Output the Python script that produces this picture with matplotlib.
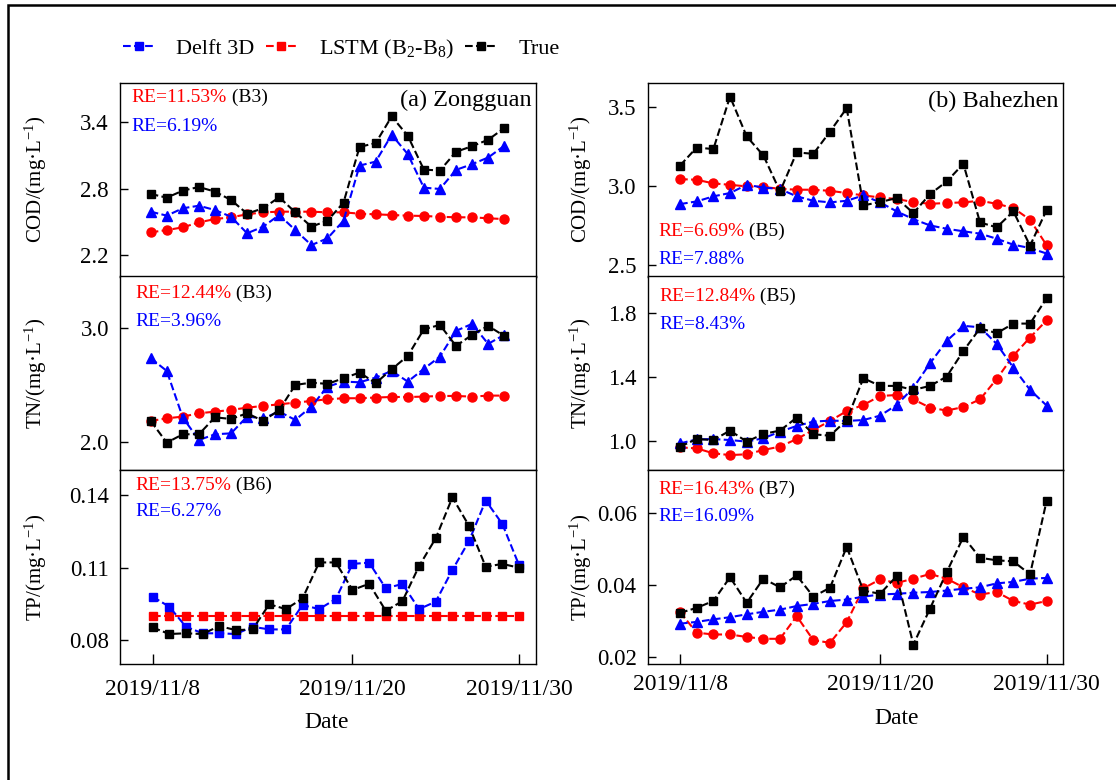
import numpy as np
import matplotlib.pyplot as plt
import matplotlib.dates as mdates
from matplotlib.patches import Rectangle
from matplotlib.ticker import FormatStrFormatter

plt.rcParams['font.family'] = ['Liberation Serif', 'DejaVu Serif']
plt.rcParams['mathtext.fontset'] = 'custom'
plt.rcParams['mathtext.rm'] = 'Liberation Serif'
plt.rcParams['mathtext.it'] = 'Liberation Serif:italic'

# daily dates, 2019/11/8 .. 2019/11/30
dates = np.arange('2019-11-08', '2019-12-01', dtype='datetime64[D]')
tick_dates = np.array(['2019-11-08', '2019-11-20', '2019-11-30'], dtype='datetime64[D]')
tick_labels = ['2019/11/8', '2019/11/20', '2019/11/30']

# (a) Zongguan
zg_cod_true = [2.752, 2.718, 2.782, 2.815, 2.773, 2.697, 2.573, 2.622, 2.722, 2.585, 2.455, 2.509,
               2.673, 3.179, 3.213, 3.455, 3.279, 2.973, 2.964, 3.134, 3.185, 3.243, 3.349]
zg_cod_delft = [2.591, 2.555, 2.622, 2.645, 2.606, 2.545, 2.395, 2.455, 2.561, 2.424, 2.288, 2.349,
                2.509, 3.009, 3.045, 3.288, 3.113, 2.809, 2.797, 2.970, 3.022, 3.082, 3.188]
zg_cod_lstm = [2.404, 2.424, 2.449, 2.494, 2.524, 2.540, 2.567, 2.585, 2.591, 2.591, 2.591, 2.585,
               2.585, 2.573, 2.567, 2.561, 2.555, 2.552, 2.545, 2.540, 2.540, 2.531, 2.524]

zg_tn_true = [2.186, 1.997, 2.070, 2.070, 2.218, 2.203, 2.253, 2.186, 2.282, 2.500, 2.520, 2.509,
              2.558, 2.608, 2.515, 2.637, 2.753, 2.985, 3.023, 2.840, 2.936, 3.015, 2.927]
zg_tn_delft = [2.733, 2.622, 2.215, 2.020, 2.070, 2.078, 2.224, 2.209, 2.267, 2.195, 2.311, 2.485,
               2.529, 2.523, 2.564, 2.622, 2.529, 2.640, 2.747, 2.971, 3.032, 2.858, 2.936]
zg_tn_lstm = [2.186, 2.209, 2.224, 2.253, 2.267, 2.282, 2.302, 2.317, 2.331, 2.346, 2.360, 2.375,
              2.384, 2.384, 2.390, 2.395, 2.395, 2.398, 2.404, 2.404, 2.398, 2.407, 2.407]

zg_tp_true = [0.0852, 0.0825, 0.0828, 0.0825, 0.0858, 0.0841, 0.0844, 0.0948, 0.0928, 0.0972, 0.1121, 0.1121,
              0.1007, 0.1033, 0.0921, 0.0961, 0.1106, 0.1221, 0.1390, 0.1272, 0.1103, 0.1115, 0.1099]
zg_tp_delft = [0.0979, 0.0938, 0.0855, 0.0828, 0.0828, 0.0825, 0.0855, 0.0844, 0.0844, 0.0945, 0.0928, 0.0970,
               0.1115, 0.1120, 0.1014, 0.1032, 0.0928, 0.0959, 0.1090, 0.1210, 0.1377, 0.1280, 0.1110]
zg_tp_lstm = [0.0899] * 23

# (b) Bahezhen
bh_cod_true = [3.128, 3.242, 3.232, 3.564, 3.312, 3.192, 2.964, 3.211, 3.202, 3.343, 3.491, 2.876,
               2.897, 2.922, 2.827, 2.947, 3.027, 3.139, 2.768, 2.737, 2.838, 2.621, 2.848]
bh_cod_delft = [2.884, 2.901, 2.933, 2.954, 3.006, 2.989, 2.979, 2.933, 2.905, 2.895, 2.905, 2.939,
                2.895, 2.838, 2.789, 2.749, 2.728, 2.712, 2.697, 2.665, 2.627, 2.606, 2.571]
bh_cod_lstm = [3.042, 3.038, 3.015, 3.006, 2.996, 2.992, 2.981, 2.975, 2.975, 2.968, 2.954, 2.939,
               2.926, 2.916, 2.897, 2.886, 2.891, 2.895, 2.905, 2.886, 2.859, 2.785, 2.623]

bh_tn_true = [0.963, 1.010, 1.004, 1.063, 0.994, 1.042, 1.063, 1.144, 1.040, 1.031, 1.129, 1.390,
              1.342, 1.342, 1.317, 1.342, 1.400, 1.560, 1.702, 1.671, 1.731, 1.731, 1.890]
bh_tn_delft = [0.983, 1.008, 1.010, 1.004, 0.994, 1.015, 1.056, 1.092, 1.119, 1.125, 1.123, 1.129,
               1.156, 1.223, 1.331, 1.483, 1.623, 1.717, 1.708, 1.604, 1.456, 1.317, 1.219]
bh_tn_lstm = [0.958, 0.952, 0.921, 0.910, 0.915, 0.942, 0.963, 1.010, 1.067, 1.123, 1.185, 1.223,
              1.279, 1.285, 1.258, 1.206, 1.188, 1.210, 1.258, 1.385, 1.531, 1.644, 1.752]

bh_tp_true = [0.0323, 0.0337, 0.0356, 0.0422, 0.0351, 0.0418, 0.0394, 0.0427, 0.0368, 0.0393, 0.0506, 0.0385,
              0.0376, 0.0425, 0.0235, 0.0335, 0.0436, 0.0534, 0.0476, 0.0469, 0.0466, 0.0430, 0.0635]
bh_tp_delft = [0.0293, 0.0298, 0.0305, 0.0311, 0.0319, 0.0326, 0.0332, 0.0342, 0.0348, 0.0356, 0.0360, 0.0368,
               0.0374, 0.0376, 0.0379, 0.0381, 0.0385, 0.0390, 0.0394, 0.0405, 0.0409, 0.0418, 0.0420]
bh_tp_lstm = [0.0325, 0.0268, 0.0263, 0.0263, 0.0256, 0.0251, 0.0251, 0.0314, 0.0247, 0.0240, 0.0297, 0.0391,
              0.0416, 0.0406, 0.0418, 0.0431, 0.0418, 0.0394, 0.0374, 0.0381, 0.0356, 0.0346, 0.0356]

W, H = 1116, 780
fig = plt.figure(figsize=(W / 100, H / 100), dpi=100)

# outer frame
fig.add_artist(Rectangle((8 / W, -0.5), 2, 1.5 - 5 / H, fill=False, lw=1.8,
                         edgecolor='black', transform=fig.transFigure, clip_on=False))


def rect(x0, y0, x1, y1):
    return [x0 / W, 1 - y1 / H, (x1 - x0) / W, (y1 - y0) / H]


def fpos(x, y):
    return x / W, 1 - y / H


rows = [(82.7, 276.5), (276.5, 470.3), (470.3, 664)]
base = mdates.date2num(np.datetime64('2019-11-08'))

panels = [
    dict(x=(120, 536), row=0, d=(zg_cod_true, zg_cod_delft, zg_cod_lstm), mk=('^', 'o'),
         yt=[2.2, 2.8, 3.4], fmt='%.1f', yl=(2.003, 3.761), lab='COD/(mg·L$^{-1}$)',
         xl=(-1.91, 23.98), re=('RE=11.53%', ' (B3)', 'RE=6.19%', 131.7, 98, 126.7)),
    dict(x=(120, 536), row=1, d=(zg_tn_true, zg_tn_delft, zg_tn_lstm), mk=('^', 'o'),
         yt=[2.0, 3.0], fmt='%.1f', yl=(1.756, 3.445), lab='TN/(mg·L$^{-1}$)',
         xl=(-1.91, 23.98), re=('RE=12.44%', ' (B3)', 'RE=3.96%', 135, 293.3, 321)),
    dict(x=(120, 536), row=2, d=(zg_tp_true, zg_tp_delft, zg_tp_lstm), mk=('s', 's'),
         yt=[0.08, 0.11, 0.14], fmt='%.2f', yl=(0.0701, 0.1502), lab='TP/(mg·L$^{-1}$)',
         xl=(-1.96, 23.02), re=('RE=13.75%', ' (B6)', 'RE=6.27%', 135, 485, 511.7)),
    dict(x=(647.7, 1062.7), row=0, d=(bh_cod_true, bh_cod_delft, bh_cod_lstm), mk=('^', 'o'),
         yt=[2.5, 3.0, 3.5], fmt='%.1f', yl=(2.426, 3.652), lab='COD/(mg·L$^{-1}$)',
         xl=(-1.94, 22.96), re=('RE=6.69%', ' (B5)', 'RE=7.88%', 658, 231.7, 260)),
    dict(x=(647.7, 1062.7), row=1, d=(bh_tn_true, bh_tn_delft, bh_tn_lstm), mk=('^', 'o'),
         yt=[1.0, 1.4, 1.8], fmt='%.1f', yl=(0.815, 2.025), lab='TN/(mg·L$^{-1}$)',
         xl=(-1.94, 22.96), re=('RE=12.84%', ' (B5)', 'RE=8.43%', 659, 296.7, 324.3)),
    dict(x=(647.7, 1062.7), row=2, d=(bh_tp_true, bh_tp_delft, bh_tp_lstm), mk=('^', 'o'),
         yt=[0.02, 0.04, 0.06], fmt='%.2f', yl=(0.0181, 0.0719), lab='TP/(mg·L$^{-1}$)',
         xl=(-1.94, 22.96), re=('RE=16.43%', ' (B7)', 'RE=16.09%', 658, 490, 516.7)),
]

BLUE, RED = '#0000ff', '#ff0000'
ms = {'s': 5.5, 'o': 6.5, '^': 7}
legend_ax = None
for p in panels:
    y0, y1 = rows[p['row']]
    left_col = p['x'][0] < 300
    ax = fig.add_axes(rect(p['x'][0], y0, p['x'][1], y1))
    true, delft, lstm = p['d']
    ax.plot(dates, lstm, ls='--', color=RED, lw=1.5, marker=p['mk'][1], ms=ms[p['mk'][1]],
            label='LSTM (B$_2$-B$_8$)')
    ax.plot(dates, delft, ls='--', color=BLUE, lw=1.5, marker=p['mk'][0], ms=ms[p['mk'][0]],
            label='Delft 3D')
    ax.plot(dates, true, ls='--', color='black', lw=1.5, marker='s', ms=5.5, label='True')
    ax.set_xlim(base + p['xl'][0], base + p['xl'][1])
    ax.set_ylim(*p['yl'])
    ax.set_yticks(p['yt'])
    ax.yaxis.set_major_formatter(FormatStrFormatter(p['fmt']))
    ax.tick_params(axis='y', direction='in', length=6, width=1, labelsize=16.5, pad=8)
    if p['row'] == 2:
        ax.set_xticks(mdates.date2num(tick_dates))
        ax.set_xticklabels(tick_labels)
        ax.tick_params(axis='x', direction='in', length=7, width=1, labelsize=17,
                       pad=11 if left_col else 7)
    else:
        ax.set_xticks([])
    for s in ax.spines.values():
        s.set_linewidth(1.0)
    ax.set_ylabel(p['lab'], fontsize=15)
    ax.yaxis.set_label_coords(-0.17 if left_col else -0.13, 0.5)

    red_txt, band, blue_txt, tx, ty1, ty2 = p['re']
    t = fig.text(*fpos(tx, ty1), red_txt, color=RED, fontsize=14, ha='left', va='center')
    ax.annotate(band, xy=(1, 0), xycoords=t, ha='left', va='bottom', fontsize=14, color='black')
    fig.text(*fpos(tx, ty2), blue_txt, color=BLUE, fontsize=14, ha='left', va='center')

    if p['row'] == 2 and left_col:
        legend_ax = ax

fig.text(*fpos(531.7, 100), '(a) Zongguan', fontsize=17.5, ha='right', va='center')
fig.text(*fpos(1058, 101.7), '(b) Bahezhen', fontsize=17.5, ha='right', va='center')
fig.text(*fpos(327, 723), 'Date', fontsize=17, ha='center', va='center')
fig.text(*fpos(897, 718), 'Date', fontsize=17, ha='center', va='center')

h, l = legend_ax.get_legend_handles_labels()
order = [1, 0, 2]
fig.legend([h[i] for i in order], [l[i] for i in order], loc='center left',
           bbox_to_anchor=fpos(103, 49), ncol=3, frameon=False, fontsize=16,
           handlelength=1.4, handletextpad=1.0, columnspacing=0.5)

fig.savefig('out.png', dpi=100)
